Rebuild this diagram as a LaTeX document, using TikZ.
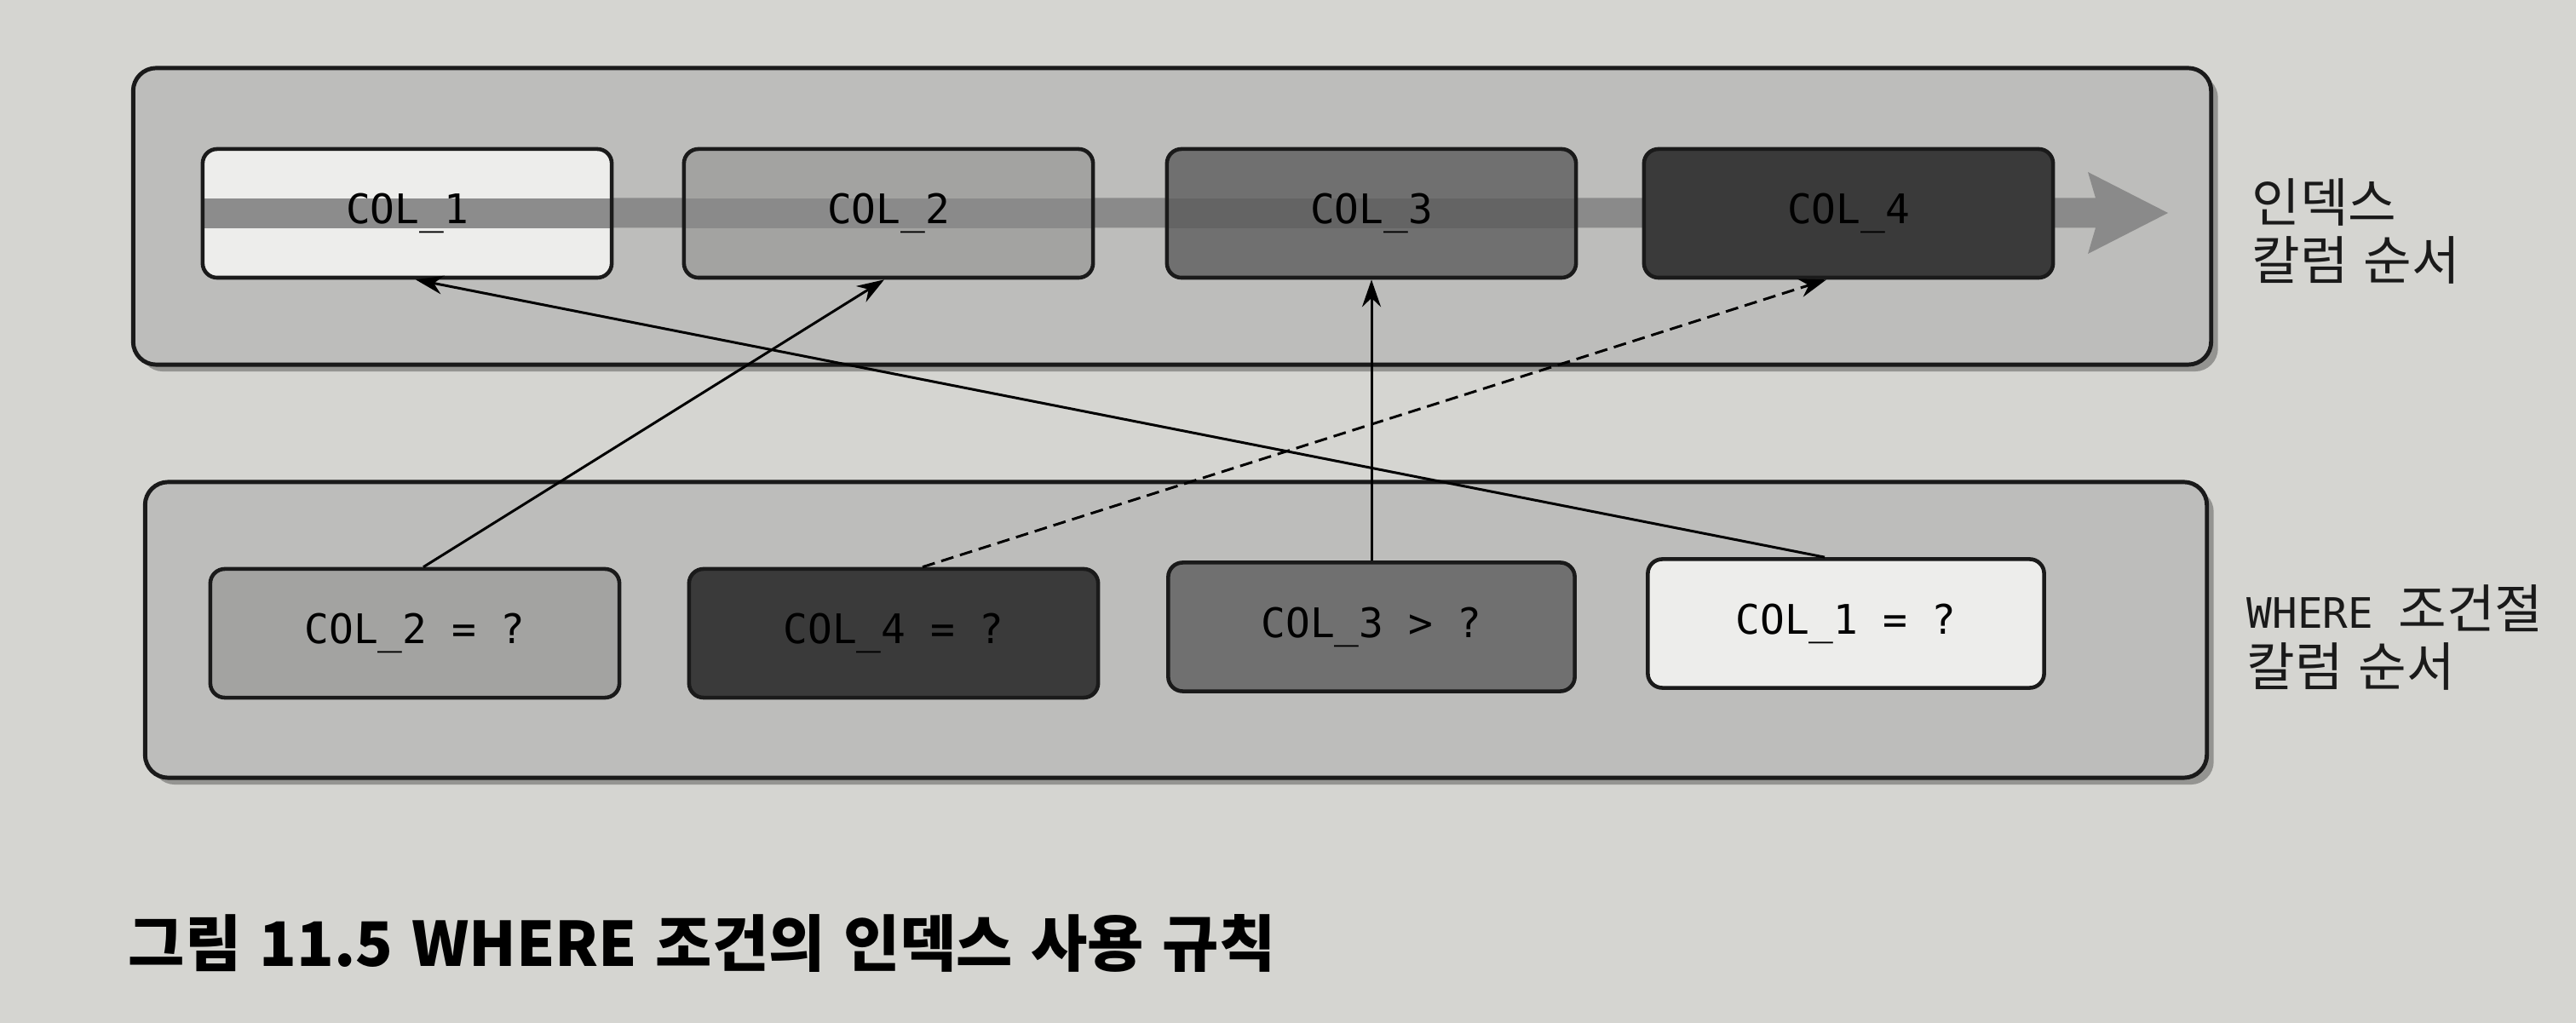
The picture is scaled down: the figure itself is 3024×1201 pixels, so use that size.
\documentclass[tikz,border=0pt]{standalone}
\usepackage{fontspec}
\setmonofont{DejaVu Sans Mono}
\newfontfamily\kr{Noto Sans CJK KR}[WordSpace=2.4]
\newfontfamily\capfont{Noto Sans CJK KR}[WordSpace=1.3]
\usetikzlibrary{arrows.meta,shadows}
\definecolor{paper}{HTML}{D5D5D1}
\definecolor{panelc}{HTML}{BDBDBB}
\definecolor{cwhite}{HTML}{EDEDEB}
\definecolor{cmid}{HTML}{A3A3A1}
\definecolor{cdark}{HTML}{707070}
\definecolor{cdarkest}{HTML}{3A3A3A}
\definecolor{bandc}{HTML}{8A8A8A}
\definecolor{bandA}{HTML}{8C8C8C}
\definecolor{bandB}{HTML}{8A8A8A}
\definecolor{bandC}{HTML}{646464}
\definecolor{inkc}{HTML}{1A1A1A}
\begin{document}
\begin{tikzpicture}[x=0.01cm,y=-0.01cm,
  panel/.style={draw=inkc, line width=1.4pt, fill=panelc, rounded corners=0.27cm,
    inner sep=0pt, drop shadow={shadow xshift=0.08cm, shadow yshift=-0.08cm, opacity=0.3, fill=black}},
  cbox/.style={draw=inkc, line width=1.3pt, rounded corners=0.17cm, inner sep=0pt,
    minimum width=4.8cm, minimum height=1.51cm, text=black,
    font=\ttfamily\fontsize{13.6}{16}\selectfont},
  inband/.style={path picture={\fill[#1, sharp corners] ([yshift=-0.175cm]path picture bounding box.west) rectangle ([yshift=0.175cm]path picture bounding box.east);}},
  conn/.style={draw=black, line width=0.85pt, -{Stealth[length=0.32cm,width=0.22cm]}},
  dashconn/.style={conn, dash pattern=on 0.15cm off 0.08cm},
  lab/.style={inner sep=0pt, align=left, text=inkc, font=\kr\fontsize{17.5}{18.8}\selectfont},
]
\useasboundingbox (0,0) rectangle (3024,1201);
\fill[paper] (0,0) rectangle (3024,1201);

% panels
\node[panel, minimum width=24.38cm, minimum height=3.48cm] (ptop) at (1376,254) {};
\node[panel, minimum width=24.19cm, minimum height=3.47cm] (pbot) at (1380.5,739.5) {};

% index order band (arrow)
\fill[bandc] (237,232.5) -- (2460,232.5) -- (2451,202) -- (2545,250) -- (2451,298) -- (2460,267.5) -- (237,267.5) -- cycle;

% index column boxes
\node[cbox, fill=cwhite, inband=bandA] (t1) at (478,250.5) {COL\_1};
\node[cbox, fill=cmid, inband=bandB] (t2) at (1043,250.5) {COL\_2};
\node[cbox, fill=cdark, inband=bandC] (t3) at (1610,250.5) {COL\_3};
\node[cbox, fill=cdarkest] (t4) at (2170,250.5) {COL\_4};

% where clause boxes
\node[cbox, fill=cmid] (b2) at (487,743.5) {COL\_2 = ?};
\node[cbox, fill=cdarkest] (b4) at (1049,743.5) {COL\_4 = ?};
\node[cbox, fill=cdark, minimum width=4.77cm] (b3) at (1610,736) {COL\_3 > ?};
\node[cbox, fill=cwhite, minimum width=4.65cm] (b1) at (2167,732) {COL\_1 = ?};

% connectors
\draw[conn] ([xshift=-0.25cm]b1.north) -- ([xshift=0.10cm]t1.south);
\draw[conn] ([xshift=0.10cm]b2.north) -- ([xshift=-0.05cm]t2.south);
\draw[conn] (b3.north) -- (t3.south);
\draw[dashconn] ([xshift=0.34cm]b4.north) -- ([xshift=-0.26cm]t4.south);

% side labels
\node[lab, anchor=north west] (l1) at (2643,209) {인덱스\\[0.6pt]칼럼 순서};
\node[lab, anchor=north west] (l2) at (2637,686) {{\ttfamily\fontsize{14}{18.8}\selectfont WHERE }조건절\\[0.6pt]칼럼 순서};

% caption
\node[anchor=base west, inner sep=0pt, text=black, font=\capfont\bfseries\fontsize{20.5}{24}\selectfont] (cap) at (150,1134) {그림 11.5 WHERE 조건의 인덱스 사용 규칙};
\end{tikzpicture}
\end{document}
